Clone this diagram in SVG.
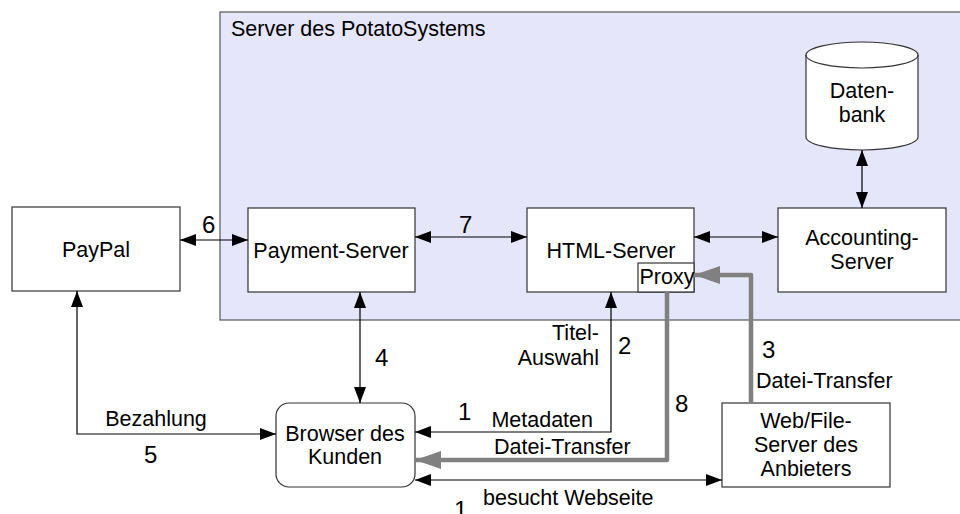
<svg xmlns="http://www.w3.org/2000/svg" width="960" height="514" viewBox="0 0 960 514">
<defs>
<style>
text{font-family:"Liberation Sans",Arial,sans-serif;fill:#000;font-size:21.5px}
.box{fill:#fff;stroke:#333;stroke-width:1.2}
.lbl{text-anchor:middle}
.num{font-size:24px}
.ln{fill:none;stroke:#000;stroke-width:1.2}
.gl{fill:none;stroke:#808080;stroke-width:4.5;stroke-linejoin:round}
</style>
<marker id="ah" viewBox="0 0 16 12" refX="16" refY="6" markerWidth="16" markerHeight="12" markerUnits="userSpaceOnUse" orient="auto-start-reverse"><path d="M0,0L16,6L0,12z" fill="#000"/></marker>
<marker id="gah" viewBox="0 0 26 18" refX="26" refY="9" markerWidth="26" markerHeight="18" markerUnits="userSpaceOnUse" orient="auto"><path d="M0,0L26,9L0,18z" fill="#808080"/></marker>
</defs>
<g id="server-group">
<rect x="220" y="12" width="745" height="308" fill="#e6e6fa" stroke="#555" stroke-width="1.2"/>
<text x="231" y="36">Server des PotatoSystems</text>
</g>
<g id="paypal"><rect class="box" x="12" y="207" width="168" height="84"/><text class="lbl" x="96" y="257">PayPal</text></g>
<g id="payment"><rect class="box" x="248" y="208" width="167" height="84"/><text class="lbl" x="331" y="258">Payment-Server</text></g>
<g id="html"><rect class="box" x="527" y="208" width="167" height="84"/><text class="lbl" x="611" y="258">HTML-Server</text>
<rect class="box" x="638" y="263" width="56" height="29"/><text class="lbl" x="667" y="284">Proxy</text></g>
<g id="accounting"><rect class="box" x="778" y="208" width="168" height="84"/><text class="lbl" x="862" y="245">Accounting-</text><text class="lbl" x="862" y="269">Server</text></g>
<g id="datenbank"><path class="box" d="M806,55 A56,13 0 0 1 918,55 V137 A56,13 0 0 1 806,137 Z"/><path d="M806,55 A56,13 0 0 0 918,55" fill="none" stroke="#333" stroke-width="1.2"/><text class="lbl" x="862" y="98">Daten-</text><text class="lbl" x="862" y="122">bank</text></g>
<g id="browser"><rect class="box" x="276" y="403" width="139" height="84" rx="13"/><text class="lbl" x="345" y="441">Browser des</text><text class="lbl" x="345" y="464">Kunden</text></g>
<g id="webfile"><rect class="box" x="722" y="403" width="168" height="84"/><text class="lbl" x="806" y="428">Web/File-</text><text class="lbl" x="806" y="452">Server des</text><text class="lbl" x="806" y="476">Anbieters</text></g>
<g id="connectors">
<line class="ln" x1="180" y1="240" x2="248" y2="240" marker-start="url(#ah)" marker-end="url(#ah)"/>
<line class="ln" x1="415" y1="237" x2="527" y2="237" marker-start="url(#ah)" marker-end="url(#ah)"/>
<line class="ln" x1="694" y1="237" x2="778" y2="237" marker-start="url(#ah)" marker-end="url(#ah)"/>
<line class="ln" x1="862" y1="150" x2="862" y2="208" marker-start="url(#ah)" marker-end="url(#ah)"/>
<line class="ln" x1="360" y1="292" x2="360" y2="403" marker-start="url(#ah)" marker-end="url(#ah)"/>
<polyline class="ln" points="77,291 77,434 276,434" marker-start="url(#ah)" marker-end="url(#ah)"/>
<polyline class="ln" points="415,432 611,432 611,292" marker-start="url(#ah)" marker-end="url(#ah)"/>
<line class="ln" x1="415" y1="480" x2="722" y2="480" marker-start="url(#ah)" marker-end="url(#ah)"/>
<polyline class="gl" points="667,292 667,460 415,460" marker-end="url(#gah)"/>
<polyline class="gl" points="751,403 751,275 694,275" marker-end="url(#gah)"/>
<text class="num" x="202" y="233">6</text>
<text class="num" x="459" y="233">7</text>
<text class="num" x="375" y="366">4</text>
<text class="num" x="144" y="463">5</text>
<text x="156" y="426" text-anchor="middle">Bezahlung</text>
<text x="599" y="340" text-anchor="end">Titel-</text>
<text x="599" y="365" text-anchor="end">Auswahl</text>
<text class="num" x="618" y="354">2</text>
<text class="num" x="458" y="420">1</text>
<text x="593" y="427" text-anchor="end">Metadaten</text>
<text x="494" y="454">Datei-Transfer</text>
<text class="num" x="675" y="412">8</text>
<text class="num" x="762" y="358">3</text>
<text x="756" y="388">Datei-Transfer</text>
<text x="483" y="505">besucht Webseite</text>
<text class="num" x="454" y="518">1</text>
</g>
</svg>
